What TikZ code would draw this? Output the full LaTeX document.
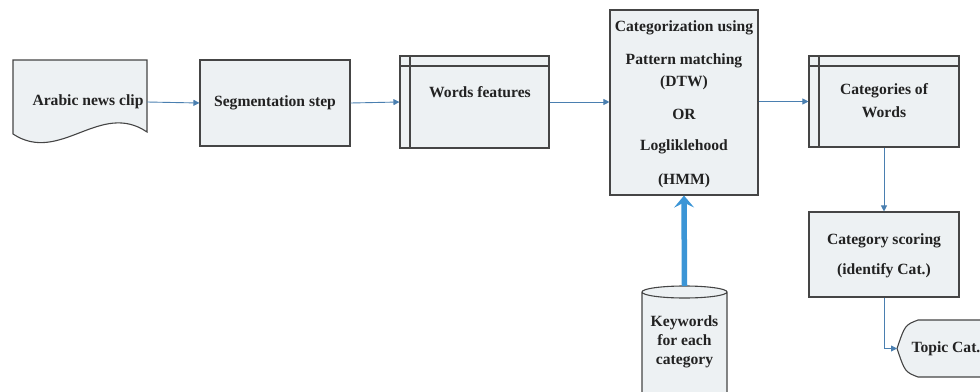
\documentclass[tikz,border=0pt]{standalone}
\usepackage{fontspec}
\setmainfont{Liberation Serif}
\usetikzlibrary{arrows.meta,positioning}
\definecolor{boxfill}{HTML}{EDF1F3}
\definecolor{boxline}{HTML}{454545}
\definecolor{arr}{HTML}{4A7FB0}
\definecolor{thickarr}{HTML}{3B95D6}
\definecolor{txt}{HTML}{222222}
\begin{document}
\begin{tikzpicture}[x=1pt,y=-1pt,
  box/.style={draw=boxline,fill=boxfill,line width=1.1pt,inner sep=0pt},
  lbl/.style={text=txt,font=\fontsize{15.6}{19}\selectfont\bfseries,align=center,inner sep=0pt},
  flow/.style={draw=arr,line width=0.9pt,-{Triangle[length=6pt,width=6pt]}}]
\useasboundingbox (0,0) rectangle (980,391);
\begin{scope}
\clip (0,0) rectangle (980,391);
% Arabic news clip (document shape)
\draw[box] (13,60) -- (147,60) -- (147,132) .. controls (100,100) and (60,165) .. (13,134) -- cycle;
\node[lbl] (clip) at (88,102) {Arabic news clip};
\coordinate (clipE) at (147,102);
% Segmentation step
\node[box,minimum width=150pt,minimum height=86pt] (seg) at (275,103) {};
\node[lbl] at (seg.center) {Segmentation step};
% Words features
\node[box,minimum width=149pt,minimum height=92pt] (wf) at (474.5,102) {};
\draw[boxline,line width=1.1pt] (410,56) -- (410,148) (400,66) -- (549,66);
\node[lbl] at (480,92) {Words features};
% Categorization
\node[box,minimum width=148pt,minimum height=185pt] (cat) at (684,102.5) {};
\node[lbl] at (684,28) {Categorization using};
\node[lbl] at (684,61) {Pattern matching};
\node[lbl] at (684,83) {(DTW)};
\node[lbl] at (684,114) {OR};
\node[lbl] at (684,147) {Logliklehood};
\node[lbl] at (684,181) {(HMM)};
% Categories of Words
\node[box,minimum width=150pt,minimum height=91pt] (cw) at (884,101.5) {};
\draw[boxline,line width=1.1pt] (819,56) -- (819,147) (809,66) -- (959,66);
\node[lbl] at (884,91) {Categories of};
\node[lbl] at (884,112) {Words};
% Category scoring
\node[box,minimum width=150pt,minimum height=85pt] (cs) at (884,254.5) {};
\node[lbl] at (884,241) {Category scoring};
\node[lbl] at (884,271) {(identify Cat.)};
% Topic Cat. (display shape)
\draw[box] (985,320) -- (918,320) .. controls (905,325) .. (897,348.5) .. controls (905,372) .. (918,377) -- (985,377) -- cycle;
\node[lbl] (topic) at (946,349) {Topic Cat.};
\coordinate (topicW) at (897,348.5);
% Keywords cylinder
\draw[box] (642,292) -- (642,400) -- (727,400) -- (727,292) arc[start angle=0,end angle=-180,x radius=42.5,y radius=6] arc[start angle=180,end angle=0,x radius=42.5,y radius=6];
\node[lbl] (kw) at (684.5,342) {Keywords\\for each\\category};
\coordinate (kwtop) at (684.5,286);
\end{scope}
% connectors
\draw[flow] (clipE) -- (seg.west);
\draw[flow] (seg.east) -- (wf.west);
\draw[flow] (wf.east) -- (cat.west |- wf.east);
\draw[flow] (cat.east |- cw.west) -- (cw.west);
\draw[flow] (cw.south) -- (cs.north);
\draw[flow] (cs.south) |- (topicW);
\draw[draw=thickarr,line width=5.5pt,-{Stealth[length=12pt,width=20pt,inset=5pt]}] (kwtop) -- (cat.south);
\end{tikzpicture}
\end{document}
